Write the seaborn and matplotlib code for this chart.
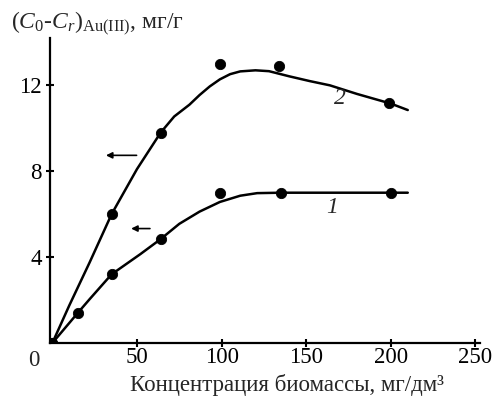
import matplotlib
matplotlib.use("Agg")
import matplotlib.pyplot as plt
import seaborn as sns

# measured points
x1 = [0, 15, 35, 64, 99, 135, 200]
y1 = [0, 1.4, 3.2, 4.85, 7.0, 7.0, 7.0]
x2 = [0, 35, 64, 99, 134, 199]
y2 = [0, 6.0, 9.8, 13.0, 12.9, 11.2]

# fitted curves
c1x = [0, 15, 22, 35, 52, 64, 75, 87, 99, 111, 121, 135, 160, 200, 210]
c1y = [0, 1.4, 2.04, 3.2, 4.14, 4.84, 5.55, 6.12, 6.57, 6.86, 6.98, 7.0, 7.0, 7.0, 7.0]
c2x = [0, 10, 22, 35, 50, 64, 72, 81, 87, 93, 99, 105, 111, 120, 128, 140, 152, 164, 180, 200, 210]
c2y = [0, 1.75, 3.75, 6.0, 8.1, 9.8, 10.55, 11.1, 11.55, 11.95, 12.28, 12.52, 12.65, 12.7, 12.66,
       12.42, 12.2, 12.0, 11.6, 11.15, 10.85]

xticks = [50, 100, 150, 200, 250]
yticks = [4, 8, 12]

sns.set_theme(style="ticks")
plt.rcParams['font.family'] = ['Liberation Serif', 'DejaVu Serif']
plt.rcParams['mathtext.fontset'] = 'custom'
plt.rcParams['mathtext.rm'] = 'Liberation Serif'
plt.rcParams['mathtext.it'] = 'Liberation Serif:italic'

fig = plt.figure(figsize=(4.96, 3.97), dpi=100)
ax = fig.add_axes([0.1008, 0.136, 0.867, 0.768])

sns.lineplot(x=c1x, y=c1y, sort=False, color="black", lw=1.8, ax=ax)
sns.lineplot(x=c2x, y=c2y, sort=False, color="black", lw=1.8, ax=ax)
sns.scatterplot(x=x1, y=y1, color="black", s=55, edgecolor="black", ax=ax, zorder=3)
sns.scatterplot(x=x2, y=y2, color="black", s=55, edgecolor="black", ax=ax, zorder=3)

ax.set_xlim(-1.4, 252.7)
ax.set_ylim(0, 14.2)
ax.set_xticks(xticks)
ax.set_xticklabels([str(v) for v in xticks])
ax.set_yticks(yticks)
ax.set_yticklabels([str(v) for v in yticks])
for s in ["top", "right"]:
    ax.spines[s].set_visible(False)
for s in ["left", "bottom"]:
    ax.spines[s].set_linewidth(1.6)
    ax.spines[s].set_color("black")
ax.tick_params(axis="both", direction="inout", length=6, width=1.5, colors="black",
               labelsize=16.5, pad=3)
ax.tick_params(axis="x", pad=0)

ax.annotate("0", xy=(0, 0), xycoords="data", xytext=(-19, -17), textcoords="offset pixels",
            ha="center", va="center", fontsize=16.5)

ax.set_xlabel("")
ax.set_ylabel("")
fig.text(0.578, 1.5 / 397, "Концентрация биомассы, мг/дм³", fontsize=16.5,
         ha="center", va="bottom")
fig.text(0.022, 0.94, r"$(C_0$-$C_r)_{\mathrm{Au(III)}}$, мг/г", fontsize=17,
         ha="left", va="center")

ax.text(170, 11.4, "2", fontsize=17, style="italic", ha="center", va="center")
ax.text(165, 6.33, "1", fontsize=17, style="italic", ha="center", va="center")

ap = dict(arrowstyle="-|>", lw=1.2, color="black", mutation_scale=9)
ax.annotate("", xy=(30, 8.74), xytext=(51.4, 8.74), arrowprops=ap)
ax.annotate("", xy=(44.9, 5.33), xytext=(59.3, 5.33), arrowprops=ap)

fig.savefig("out.png", dpi=100)
